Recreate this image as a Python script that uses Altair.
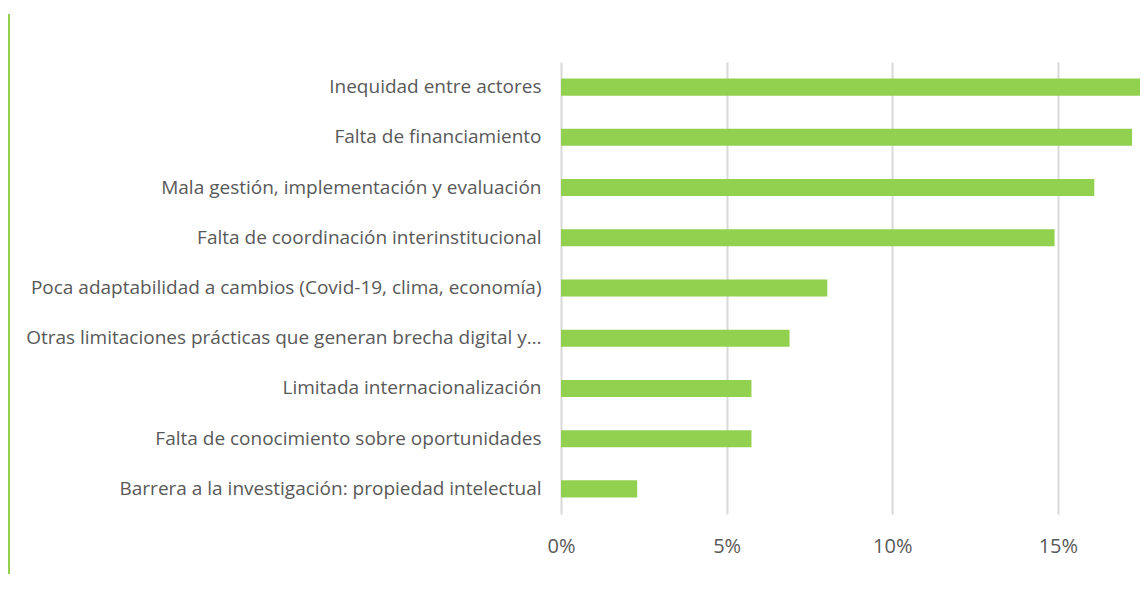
import altair as alt
import pandas as pd

categories = [
    "Inequidad entre actores",
    "Falta de financiamiento",
    "Mala gestión, implementación y evaluación",
    "Falta de coordinación interinstitucional",
    "Poca adaptabilidad a cambios (Covid-19, clima, economía)",
    "Otras limitaciones prácticas que generan brecha digital y…",
    "Limitada internacionalización",
    "Falta de conocimiento sobre oportunidades",
    "Barrera a la investigación: propiedad intelectual",
]
values = [0.184, 0.1724, 0.161, 0.149, 0.0804, 0.069, 0.0575, 0.0575, 0.023]
tick_values = [0, 0.05, 0.10, 0.15]

df = pd.DataFrame({"cat": categories, "val": values})

FONT = "Open Sans"
GREY = "#595959"

bars = alt.Chart(df).mark_bar(color="#92D050", clip=True).encode(
    x=alt.X(
        "val:Q",
        scale=alt.Scale(domain=[0, 0.1748], nice=False, zero=True),
        axis=alt.Axis(
            values=tick_values,
            format=".0%",
            title=None,
            domain=False,
            ticks=False,
            grid=True,
            gridColor="#d9d9d9",
            gridWidth=2,
            labelFont=FONT,
            labelFontSize=20,
            labelColor=GREY,
            labelPadding=22,
            labelFlush=False,
        ),
    ),
    y=alt.Y(
        "cat:N",
        sort=None,
        scale=alt.Scale(paddingInner=0.66, paddingOuter=0.33),
        axis=alt.Axis(
            title=None,
            domain=False,
            ticks=False,
            grid=False,
            labelFont=FONT,
            labelFontSize=19,
            labelColor=GREY,
            labelPadding=20,
            labelLimit=700,
        ),
    ),
)

side = alt.Chart(df).mark_rule(color="#92D050", strokeWidth=2, clip=False).encode(
    x=alt.value(-552), y=alt.value(-48), y2=alt.value(520)
)

chart = (
    alt.layer(side, bars)
    .properties(
        width=579,
        height=452,
        background="white",
        autosize=alt.AutoSizeParams(type="none"),
        padding={"left": 553, "top": 54, "right": 0, "bottom": 60},
    )
    .configure_view(stroke=None)
)

chart.save("out.html", embed_options={"renderer": "svg", "actions": False})
